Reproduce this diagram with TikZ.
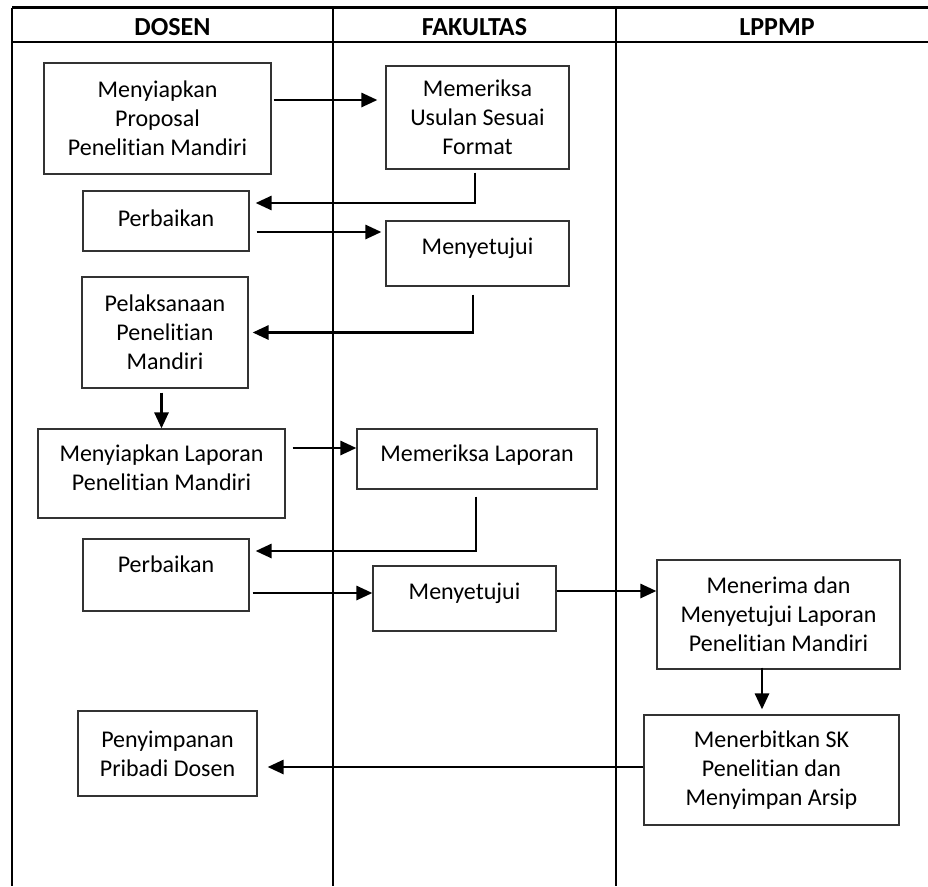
\documentclass[tikz,border=0pt]{standalone}
\usepackage{fontspec}
\setmainfont{Carlito}[Ligatures=NoCommon]
\usetikzlibrary{arrows.meta,calc}
\begin{document}
\begin{tikzpicture}[x=1pt,y=-1pt,
  box/.style={draw=black!80, line width=1.2pt, fill=white, inner sep=0pt, align=center, font=\fontsize{24}{29}\selectfont},
  arr/.style={line width=2.8pt, -{Triangle[length=16pt,width=14pt]}},
  lane/.style={line width=2.3pt},
  head/.style={font=\fontsize{26}{30}\selectfont\bfseries}
]
\useasboundingbox (0,0) rectangle (928,886);
\fill[white] (0,0) rectangle (928,886);

% swimlane frame
\draw[lane] (12,7.5) -- (928,7.5);
\draw[lane] (12,42) -- (928,42);
\draw[lane] (12,7.5) -- (12,886);
\draw[lane] (333,7.5) -- (333,886);
\draw[lane] (616,7.5) -- (616,886);

\node[head] (hdosen) at (172.5,26.7) {DOSEN};
\node[head] (hfak) at (474.5,26.7) {FAKULTAS};
\node[head] (hlp) at (777,26.7) {LPPMP};

% boxes
\node[box, minimum width=227pt, minimum height=111pt] (p1) at (157.5,118.5) {Menyiapkan\\Proposal\\Penelitian Mandiri};
\node[box, minimum width=183pt, minimum height=103pt] (m1) at (477.5,117.5) {Memeriksa\\Usulan Sesuai\\Format};
\node[box, minimum width=166pt, minimum height=60pt] (pb1) at (166,221) {\raisebox{3pt}[\height][\depth]{Perbaikan}};
\node[box, minimum width=183pt, minimum height=65pt] (s1) at (477.5,253.5) {\raisebox{5.5pt}[\height][\depth]{Menyetujui}};
\node[box, minimum width=166pt, minimum height=111pt] (pl) at (165,332.5) {Pelaksanaan\\Penelitian\\Mandiri};
\node[box, minimum width=247pt, minimum height=89pt] (lp) at (161.5,473.5) {\raisebox{3pt}[\height][\depth]{\begin{tabular}{@{}c@{}}Menyiapkan Laporan\\Penelitian Mandiri\end{tabular}}};
\node[box, minimum width=240pt, minimum height=60pt] (ml) at (477,459) {\raisebox{4pt}[\height][\depth]{Memeriksa Laporan}};
\node[box, minimum width=166pt, minimum height=72pt] (pb2) at (166,575) {\raisebox{11pt}[\height][\depth]{Perbaikan}};
\node[box, minimum width=183pt, minimum height=65pt] (s2) at (464.5,598.5) {\raisebox{5.5pt}[\height][\depth]{Menyetujui}};
\node[box, minimum width=243pt, minimum height=109pt] (mn) at (778.5,614.5) {Menerima dan\\Menyetujui Laporan\\Penelitian Mandiri};
\node[box, minimum width=255pt, minimum height=110pt] (mb) at (771.5,770) {Menerbitkan SK\\Penelitian dan\\Menyimpan Arsip};
\node[box, minimum width=179pt, minimum height=85pt] (ps) at (167.5,753.5) {Penyimpanan\\Pribadi Dosen};

% connectors
\draw[arr, shorten <=2pt, shorten >=8pt] (p1.east |- 0,100) -- (m1.west |- 0,100);
\draw[arr, shorten >=6pt] ([xshift=-2.5pt,yshift=-3pt]m1.south) |- (pb1.east |- 0,203);
\draw[arr, shorten <=7pt, shorten >=4pt] (pb1.east |- 0,232) -- (s1.west |- 0,232);
\draw[arr, shorten >=4pt] ([xshift=-4.5pt,yshift=-8pt]s1.south) |- (pl.east);
\draw[arr, shorten <=4pt] (lp.north |- pl.south) -- (lp.north);
\draw[arr, shorten <=7pt] (lp.east |- 0,448) -- (ml.west |- 0,448);
\draw[arr, shorten >=6pt] ([xshift=-1pt,yshift=-7pt]ml.south) |- (pb2.east |- 0,551);
\draw[arr, shorten <=3pt] (pb2.east |- 0,593) -- (s2.west |- 0,593);
\draw[arr] (s2.east |- 0,591) -- (mn.west |- 0,591);
\draw[arr, shorten <=-2pt, shorten >=5pt] (mn.south -| 762,0) -- (mb.north -| 762,0);
\draw[arr, shorten >=10pt] (mb.west |- 0,767) -- (ps.east |- 0,767);
\end{tikzpicture}
\end{document}
